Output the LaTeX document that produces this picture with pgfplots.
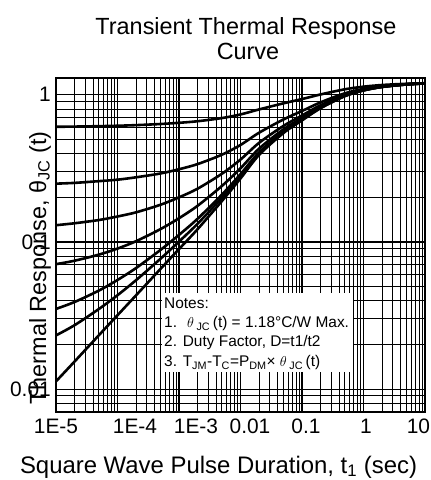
\documentclass[border=0pt]{standalone}
\usepackage{fontspec}
\setmainfont{Liberation Sans}
\usepackage{pgfplots}
\pgfplotsset{compat=1.18}

\begin{document}
\begin{tikzpicture}[curve/.style={black, line width=2.6bp, smooth, mark=none}]
% page = 431 x 480, axis box 369 x 334 with its lower left corner at (0,0)
\useasboundingbox (-56bp,-68bp) rectangle (375bp,412bp);
\begin{axis}[
    scale only axis,
    width=369bp, height=334bp,
    xmode=log, ymode=log,
    xmin=1e-5, xmax=10,
    ymin=0.007, ymax=1.3,
    xtick={1e-5,1e-4,1e-3,1e-2,1e-1,1,10},
    xticklabels={1E-5,\hspace*{35bp}1E-4,\hspace*{34bp}1E-3,\hspace*{19bp}0.01,\hspace*{8bp}0.1,\hspace*{5bp}1,10\hspace*{13bp}},
    ytick={0.01,0.1,1},
    yticklabels={0.01,0.1,1},
    minor xtick={2e-5,3e-5,4e-5,5e-5,6e-5,7e-5,8e-5,9e-5,
                 2e-4,3e-4,4e-4,5e-4,6e-4,7e-4,8e-4,9e-4,
                 2e-3,3e-3,4e-3,5e-3,6e-3,7e-3,8e-3,9e-3,
                 0.02,0.03,0.04,0.05,0.06,0.07,0.08,0.09,
                 0.2,0.3,0.4,0.5,0.6,0.7,0.8,0.9,
                 2,3,4,5,6,7,8,9},
    minor ytick={0.008,0.009,
                 0.02,0.03,0.04,0.05,0.06,0.07,0.08,0.09,
                 0.2,0.3,0.4,0.5,0.6,0.7,0.8,0.9},
    grid=both,
    major grid style={black, line width=1.3bp},
    minor grid style={black, line width=1bp},
    major tick length=0pt, minor tick length=0pt,
    axis line style={black, line width=1.6bp},
    tick label style={font=\fontsize{21}{21}\selectfont},
    /pgf/number format/assume math mode=true,
    xticklabel style={anchor=base, yshift=-21bp, inner sep=0pt},
    yticklabel style={anchor=east, xshift=-5bp, inner sep=0pt},
]
% D = 0.5
\addplot[curve] coordinates {(1e-5,0.606)(2e-5,0.608)(5e-5,0.612)(1e-4,0.616)(2e-4,0.622)(5e-4,0.633)(1e-3,0.645)(2e-3,0.661)(5e-3,0.695)(1e-2,0.735)(2e-2,0.795)(5e-2,0.875)(0.1,0.935)(0.2,1.005)(0.5,1.09)(1,1.135)(2,1.165)(5,1.188)(10,1.198)};
% D = 0.2
\addplot[curve] coordinates {(1e-5,0.249)(2e-5,0.252)(5e-5,0.259)(1e-4,0.265)(2e-4,0.275)(5e-4,0.292)(1e-3,0.312)(2e-3,0.338)(5e-3,0.392)(1e-2,0.456)(2e-2,0.552)(5e-2,0.68)(0.1,0.776)(0.2,0.888)(0.5,1.024)(1,1.096)(2,1.144)(5,1.18)(10,1.196)};
% D = 0.1
\addplot[curve] coordinates {(1e-5,0.130)(2e-5,0.134)(5e-5,0.141)(1e-4,0.149)(2e-4,0.159)(5e-4,0.179)(1e-3,0.201)(2e-3,0.230)(5e-3,0.291)(1e-2,0.363)(2e-2,0.471)(5e-2,0.615)(0.1,0.723)(0.2,0.849)(0.5,1.002)(1,1.083)(2,1.137)(5,1.178)(10,1.196)};
% D = 0.05
\addplot[curve] coordinates {(1e-5,0.0707)(2e-5,0.0746)(5e-5,0.0821)(1e-4,0.0902)(2e-4,0.1012)(5e-4,0.1223)(1e-3,0.145)(2e-3,0.176)(5e-3,0.2405)(1e-2,0.3165)(2e-2,0.4305)(5e-2,0.583)(0.1,0.697)(0.2,0.830)(0.5,0.991)(1,1.077)(2,1.134)(5,1.176)(10,1.195)};
% D = 0.02
\addplot[curve] coordinates {(1e-5,0.0351)(2e-5,0.0391)(5e-5,0.0468)(1e-4,0.0552)(2e-4,0.0665)(5e-4,0.0883)(1e-3,0.1117)(2e-3,0.1436)(5e-3,0.210)(1e-2,0.289)(2e-2,0.406)(5e-2,0.563)(0.1,0.681)(0.2,0.818)(0.5,0.984)(1,1.073)(2,1.131)(5,1.176)(10,1.195)};
% D = 0.01
\addplot[curve] coordinates {(1e-5,0.0232)(2e-5,0.0272)(5e-5,0.0351)(1e-4,0.0435)(2e-4,0.0550)(5e-4,0.0769)(1e-3,0.1006)(2e-3,0.1328)(5e-3,0.200)(1e-2,0.279)(2e-2,0.398)(5e-2,0.557)(0.1,0.675)(0.2,0.814)(0.5,0.982)(1,1.071)(2,1.131)(5,1.175)(10,1.195)};
% single pulse
\addplot[curve] coordinates {(1e-5,0.0113)(2e-5,0.0154)(5e-5,0.0233)(1e-4,0.0318)(2e-4,0.0434)(5e-4,0.0656)(1e-3,0.0895)(2e-3,0.122)(5e-3,0.19)(1e-2,0.27)(2e-2,0.39)(5e-2,0.55)(0.1,0.67)(0.2,0.81)(0.5,0.98)(1,1.07)(2,1.13)(5,1.175)(10,1.195)};
\end{axis}

% notes box
\fill[white] (105.5bp,40bp) rectangle (297bp,119bp);
\begin{scope}[every node/.style={anchor=base west, inner sep=0pt, font=\fontsize{15.5}{15.5}\selectfont}]
\node at (108bp,103bp) {Notes:};
\node at (108bp,84bp) {1.\hspace{10bp}$\theta$\,\textsubscript{JC}\,(t) = 1.18°C/W Max.};
\node at (108bp,65bp) {2. Duty Factor, D=t1/t2};
\node at (108bp,45bp) {3. T\textsubscript{JM}-T\textsubscript{C}=P\textsubscript{DM}× $\theta$\,\textsubscript{JC}\,(t)};
\end{scope}

% title and axis labels
\node[anchor=base, inner sep=0pt, font=\fontsize{23.5}{23.5}\selectfont] at (190bp,377bp) {Transient Thermal Response};
\node[anchor=base, inner sep=0pt, font=\fontsize{23.5}{23.5}\selectfont] at (192bp,352bp) {Curve};
\node[anchor=base, inner sep=0pt, font=\fontsize{24}{24}\selectfont] at (162.5bp,-61bp) {Square Wave Pulse Duration, t\textsubscript{1} (sec)};
\node[anchor=base, rotate=90, inner sep=0pt, font=\fontsize{23.5}{23.5}\selectfont] at (-10bp,144bp) {Thermal Response, θ\textsubscript{JC} (t)};
\end{tikzpicture}
\end{document}
